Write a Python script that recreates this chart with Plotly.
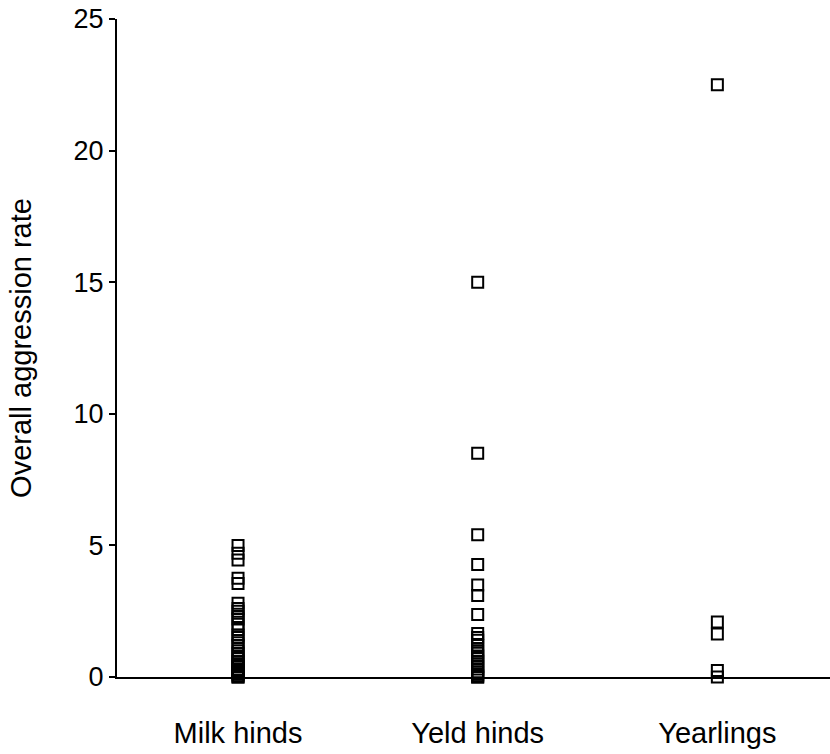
import plotly.graph_objects as go

# Group names shown along the x axis
categories = ["Milk hinds", "Yeld hinds", "Yearlings"]

# Overall aggression rate per individual, by group
milk_hinds = [5.0, 4.7, 4.45, 3.75, 3.55, 2.8, 2.6, 2.5, 2.3, 2.2, 2.0, 1.8, 1.6,
              1.5, 1.3, 1.2, 1.0, 0.9, 0.8, 0.7, 0.6, 0.5, 0.45, 0.4, 0.3, 0.25,
              0.2, 0.15, 0.1, 0.05, 0.0, 0.0]
yeld_hinds = [15.0, 8.5, 5.4, 4.27, 3.5, 3.1, 2.37, 1.65, 1.5, 1.4, 1.2, 1.0, 0.9,
              0.8, 0.7, 0.6, 0.5, 0.4, 0.3, 0.2, 0.1, 0.05, 0.0, 0.0]
yearlings = [22.5, 2.09, 1.63, 0.25, 0.0]

y_ticks = [0, 5, 10, 15, 20, 25]

groups = [milk_hinds, yeld_hinds, yearlings]

fig = go.Figure()
for i, vals in enumerate(groups):
    fig.add_trace(go.Scatter(
        x=[i] * len(vals),
        y=vals,
        mode="markers",
        marker=dict(symbol="square-open", size=11, color="black",
                    line=dict(width=2, color="black")),
        cliponaxis=False,
        showlegend=False,
    ))

family = "Liberation Sans, Arial, sans-serif"
tick_font = dict(family=family, size=27, color="black")
label_font = dict(family=family, size=29, color="black")

fig.update_layout(
    width=830, height=754,
    margin=dict(l=117, r=0, t=19, b=77),
    paper_bgcolor="white", plot_bgcolor="white",
    font=tick_font,
)
fig.update_xaxes(
    range=[-0.505, 2.47],
    tickvals=[0, 1, 2], ticktext=categories,
    showline=True, linecolor="black", linewidth=2,
    ticks="", showgrid=False, zeroline=False,
    ticklabelstandoff=29,
    tickfont=label_font,
)
fig.update_yaxes(
    range=[0, 25],
    tickvals=y_ticks,
    showline=True, linecolor="black", linewidth=2,
    ticks="outside", ticklen=6, tickwidth=2, tickcolor="black",
    showgrid=False, zeroline=False,
    tickfont=tick_font,
    title=dict(text="Overall aggression rate", font=label_font, standoff=33),
)

fig.write_html("out.html")
